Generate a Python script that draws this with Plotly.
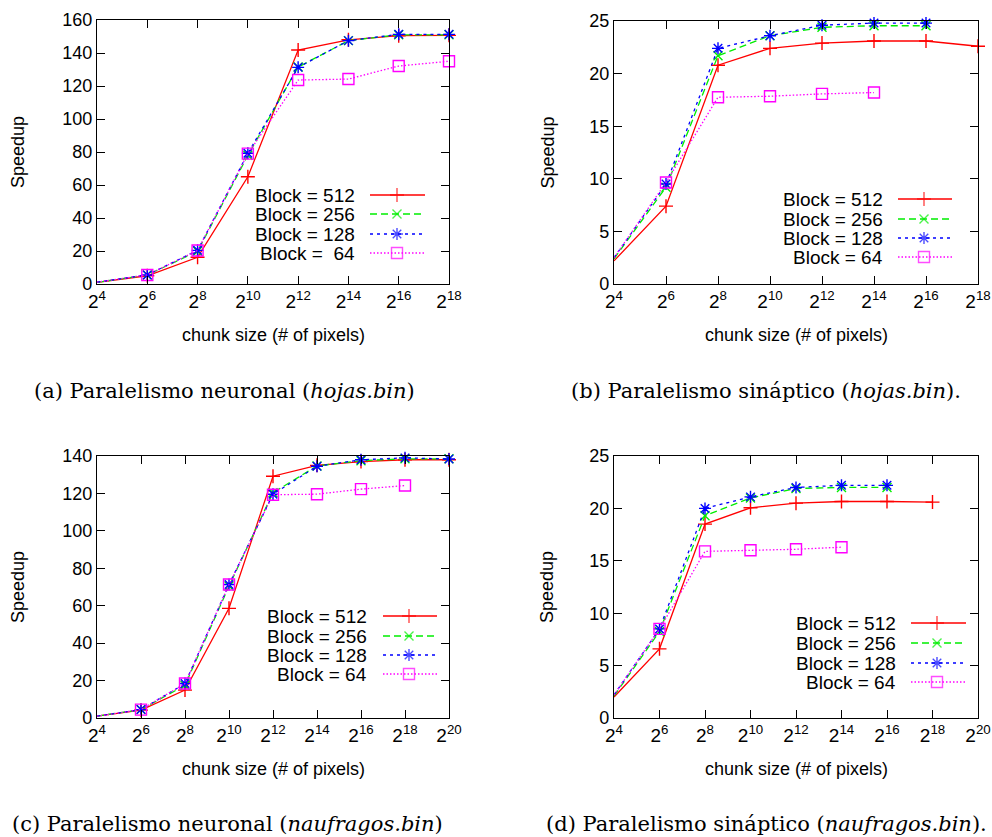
import plotly.graph_objects as go
import math

W, H = 992, 837

# ---------------- data ----------------
series_names = ["Block = 512", "Block = 256", "Block = 128", "Block = 64"]

a_exp = [4, 6, 8, 10, 12, 14, 16, 18]
a_512 = [1.0, 5.0, 16.2, 65.0, 141.8, 148.0, 150.5, 150.7]
a_256 = [1.0, 5.5, 19.8, 78.0, 131.5, 147.5, 151.0, 151.0]
a_128 = [1.1, 5.5, 20.4, 79.2, 131.3, 147.5, 151.3, 151.3]
a_64 = [1.1, 5.5, 20.3, 79.0, 123.6, 124.2, 132.1, 135.0]

b_exp = [4, 6, 8, 10, 12, 14, 16, 18]
b_512 = [2.2, 7.4, 20.8, 22.4, 22.9, 23.1, 23.1, 22.6]
b_256 = [2.4, 9.2, 21.7, 23.6, 24.4, 24.55, 24.55]
b_128 = [2.5, 9.5, 22.4, 23.6, 24.6, 24.8, 24.8]
b_64 = [2.5, 9.65, 17.75, 17.85, 18.07, 18.2]

c_exp = [4, 6, 8, 10, 12, 14, 16, 18, 20]
c_512 = [1.0, 4.2, 14.9, 58.6, 129.2, 135.0, 137.0, 138.0, 138.0]
c_256 = [1.0, 4.5, 17.5, 70.5, 120.4, 134.7, 137.5, 138.5, 138.5]
c_128 = [1.0, 4.5, 18.4, 71.3, 119.6, 134.5, 138.0, 139.0, 138.4]
c_64 = [1.0, 4.5, 18.4, 71.3, 119.3, 119.6, 122.3, 124.2]

d_exp = [4, 6, 8, 10, 12, 14, 16, 18, 20]
d_512 = [2.0, 6.6, 18.5, 20.06, 20.5, 20.66, 20.66, 20.6]
d_256 = [2.1, 8.26, 19.3, 21.0, 21.9, 22.0, 22.0]
d_128 = [2.2, 8.5, 20.0, 21.1, 22.0, 22.2, 22.2]
d_64 = [2.2, 8.5, 15.9, 16.0, 16.1, 16.3]

captions = [
    "(a) Paralelismo neuronal (<i>hojas.bin</i>)",
    "(b) Paralelismo sináptico (<i>hojas.bin</i>).",
    "(c) Paralelismo neuronal (<i>naufragos.bin</i>)",
    "(d) Paralelismo sináptico (<i>naufragos.bin</i>).",
]
y_title = "Speedup"
x_title = "chunk size (# of pixels)"

# ---------------- styles ----------------
colors = ["#ff0000", "#00ee00", "#0000ff", "#ff00ff"]
dashes = ["solid", "7px,4px", "3px,4px", "1.5px,2px"]
symbols = ["cross-thin", "x-thin", "asterisk", "square-open"]
msizes = [10, 9, 10, 11]
SANS = "Liberation Sans, Arial, sans-serif"
SERIF = "DejaVu Serif, serif"

panels = [
    dict(exp=a_exp, ys=[a_512, a_256, a_128, a_64], xr=(4, 18), yr=(0, 160), dy=20,
         px=(97, 449), py=(20, 284)),
    dict(exp=b_exp, ys=[b_512, b_256, b_128, b_64], xr=(4, 18), yr=(0, 25), dy=5,
         px=(614, 978), py=(21, 284)),
    dict(exp=c_exp, ys=[c_512, c_256, c_128, c_64], xr=(4, 20), yr=(0, 140), dy=20,
         px=(97, 449), py=(456, 718)),
    dict(exp=d_exp, ys=[d_512, d_256, d_128, d_64], xr=(4, 20), yr=(0, 25), dy=5,
         px=(614, 978), py=(456, 718)),
]

# legend layout (page pixels): text right edge, sample x0, marker x, sample x1, row ys
legend_pos = [
    dict(tx=357, x0=370, xm=397, x1=425, rows=[195, 214, 234, 253]),
    dict(tx=885, x0=898, xm=924, x1=952, rows=[199, 219, 238, 257]),
    dict(tx=369, x0=383, xm=409, x1=437, rows=[616, 636, 655, 674]),
    dict(tx=898, x0=911, xm=937, x1=966, rows=[623, 643, 663, 682]),
]
caption_pos = [(224, 391), (766, 391), (227, 824), (766, 824)]
ylabel_x = [18, 547, 18, 547]
xlabel_x = [273, 796, 273, 796]

fig = go.Figure()
layout = dict(
    width=W, height=H, margin=dict(l=0, r=0, t=0, b=0, autoexpand=False),
    paper_bgcolor="white", plot_bgcolor="rgba(0,0,0,0)", showlegend=False,
    font=dict(family=SANS, color="black", size=18),
)
annotations = []

for i, p in enumerate(panels):
    k = i + 1
    xa = "xaxis" if k == 1 else f"xaxis{k}"
    ya = "yaxis" if k == 1 else f"yaxis{k}"
    xr = "x" if k == 1 else f"x{k}"
    yr = "y" if k == 1 else f"y{k}"
    for j in range(4):
        yv = p["ys"][j]
        xv = [2 ** e for e in p["exp"][:len(yv)]]
        fig.add_trace(go.Scatter(
            x=xv, y=yv, xaxis=xr, yaxis=yr, mode="lines+markers", name=series_names[j],
            line=dict(color=colors[j], width=1.3, dash=dashes[j]),
            marker=dict(symbol=symbols[j], size=msizes[j], color=colors[j],
                        line=dict(color=colors[j], width=1.4)),
            cliponaxis=False,
        ))
    tickexp = list(range(p["xr"][0], p["xr"][1] + 1, 2))
    layout[xa] = dict(
        type="log", range=[math.log10(2 ** p["xr"][0]), math.log10(2 ** p["xr"][1])],
        domain=[p["px"][0] / W, p["px"][1] / W], anchor=yr, automargin=False,
        tickmode="array",
        tickvals=[2 ** e for e in tickexp],
        ticktext=[f"2<sup>{e}</sup>" for e in tickexp],
        ticks="inside", ticklen=8, tickwidth=1, tickcolor="black",
        showline=True, linecolor="black", linewidth=1.2, mirror="ticks",
        showgrid=False, zeroline=False, tickfont=dict(size=19, family=SANS),
    )
    layout[ya] = dict(
        range=list(p["yr"]), domain=[1 - p["py"][1] / H, 1 - p["py"][0] / H], anchor=xr,
        automargin=False,
        tickmode="linear", tick0=0, dtick=p["dy"],
        ticks="inside", ticklen=8, tickwidth=1, tickcolor="black",
        showline=True, linecolor="black", linewidth=1.2, mirror="ticks",
        showgrid=False, zeroline=False, tickfont=dict(size=18, family=SANS),
    )

# overlay page-pixel axes for legends and text
layout["xaxis5"] = dict(domain=[0, 1], range=[0, W], visible=False, anchor="y5",
                        fixedrange=True, automargin=False)
layout["yaxis5"] = dict(domain=[0, 1], range=[H, 0], visible=False, anchor="x5",
                        fixedrange=True, automargin=False)

for i, lp in enumerate(legend_pos):
    for j in range(4):
        yrow = lp["rows"][j]
        fig.add_trace(go.Scatter(
            x=[lp["x0"], lp["xm"], lp["x1"]], y=[yrow, yrow, yrow], xaxis="x5", yaxis="y5",
            mode="lines+markers", hoverinfo="skip",
            line=dict(color=colors[j], width=1.3, dash=dashes[j]),
            marker=dict(symbol=symbols[j], size=[0, msizes[j], 0], color=colors[j],
                        line=dict(color=colors[j], width=1.4)),
            cliponaxis=False,
        ))
        label = series_names[j]
        if i == 0 and j == 3:
            label = "Block =&nbsp;&nbsp;64"
        annotations.append(dict(
            x=lp["tx"], y=yrow, xref="x5", yref="y5", text=label, showarrow=False,
            xanchor="right", yanchor="middle", font=dict(size=19, family=SANS),
        ))

for i, p in enumerate(panels):
    cy = (p["py"][0] + p["py"][1]) / 2
    annotations.append(dict(x=ylabel_x[i], y=cy, xref="x5", yref="y5", text=y_title,
                            showarrow=False, textangle=-90, font=dict(size=18, family=SANS),
                            xanchor="center", yanchor="middle"))
    annotations.append(dict(x=xlabel_x[i], y=p["py"][1] + 51, xref="x5", yref="y5",
                            text=x_title, showarrow=False, font=dict(size=18, family=SANS),
                            xanchor="center", yanchor="middle"))
    annotations.append(dict(x=caption_pos[i][0], y=caption_pos[i][1], xref="x5", yref="y5",
                            text=captions[i], showarrow=False,
                            font=dict(size=21, family=SERIF), xanchor="center", yanchor="middle"))

layout["annotations"] = annotations
fig.update_layout(**layout)
fig.write_html("out.html", config={"displayModeBar": False},
               post_script="document.body.style.margin='0px';document.body.style.overflow='hidden';")
